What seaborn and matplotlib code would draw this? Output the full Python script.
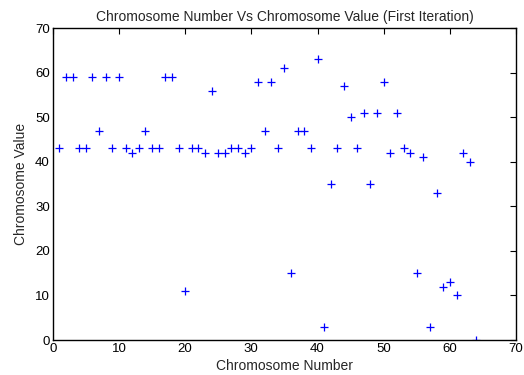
import numpy as np
import pandas as pd
import seaborn as sns
import matplotlib
matplotlib.use('Agg')
import matplotlib.pyplot as plt

# chromosome index and value
chrom_num = list(range(1, 65))
chrom_val = [43, 59, 59, 43, 43, 59, 47, 59, 43, 59,
             43, 42, 43, 47, 43, 43, 59, 59, 43, 11,
             43, 43, 42, 56, 42, 42, 43, 43, 42, 43,
             58, 47, 58, 43, 61, 15, 47, 47, 43, 63,
             3, 35, 43, 57, 50, 43, 51, 35, 51, 58,
             42, 51, 43, 42, 15, 41, 3, 33, 12, 13,
             10, 42, 40, 0]

df = pd.DataFrame({'num': chrom_num, 'val': chrom_val})

sns.set_style('white')
plt.rcParams['font.family'] = ['Liberation Sans', 'DejaVu Sans']
plt.rcParams['xtick.direction'] = 'in'
plt.rcParams['ytick.direction'] = 'in'

fig = plt.figure(figsize=(5.24, 3.75), dpi=100)
ax = fig.add_axes([0.1006, 0.0933, 0.8844, 0.8315])

sns.scatterplot(data=df, x='num', y='val', marker='+', color='#0000ff',
                s=36, linewidth=0.9, ax=ax, legend=False)

ax.set_xlim(0, 70)
ax.set_ylim(0, 70)
ax.set_xticks(range(0, 71, 10))
ax.set_yticks(range(0, 71, 10))
ax.tick_params(axis='both', which='both', top=True, right=True, length=4,
               width=0.8, labelsize=9.5, colors='black', pad=2)
for sp in ax.spines.values():
    sp.set_color('black')
    sp.set_linewidth(1.0)

ax.set_title('Chromosome Number Vs Chromosome Value (First Iteration)', fontsize=10, pad=5)
ax.set_xlabel('Chromosome Number', fontsize=10, labelpad=3)
ax.set_ylabel('Chromosome Value', fontsize=10, labelpad=5)

fig.savefig('out.png', dpi=100)
